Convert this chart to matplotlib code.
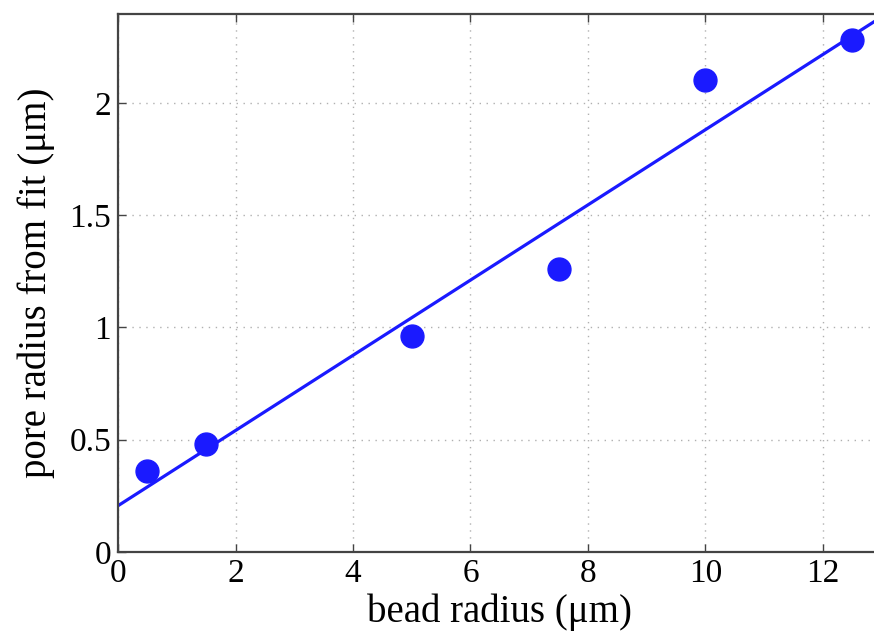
import matplotlib
matplotlib.use("Agg")
import matplotlib.pyplot as plt
import numpy as np

bead_radius = [0.5, 1.5, 5.0, 7.5, 10.0, 12.5]
pore_radius = [0.36, 0.48, 0.96, 1.26, 2.10, 2.28]
fit_slope = 0.1675
fit_intercept = 0.206
x_ticks = [0, 2, 4, 6, 8, 10, 12]
y_ticks = [0, 0.5, 1, 1.5, 2]
y_tick_labels = ["0", "0.5", "1", "1.5", "2"]

plt.rcParams['font.family'] = ['Liberation Serif', 'DejaVu Serif']

fig = plt.figure(figsize=(8.74, 6.35), dpi=100)
ax = fig.add_axes([118/874, 83/635, (881.75-118)/874, (552-14)/635])

color = '#1a1aff'
xf = np.array([0, 13])
ax.plot(xf, fit_intercept + fit_slope * xf, color=color, lw=2.3, zorder=2)
ax.plot(bead_radius, pore_radius, 'o', color=color, markersize=16.5, zorder=3)

ax.set_xlim(0, 13)
ax.set_ylim(0, 2.396)
ax.set_xticks(x_ticks)
ax.set_yticks(y_ticks)
ax.set_yticklabels(y_tick_labels)
ax.tick_params(direction='in', top=True, right=True, length=6, width=1,
               colors='#444444', labelcolor='black', labelsize=24, pad=5)
ax.grid(True, linestyle=(0, (1, 4)), color='#b0b0b0', lw=1)
for s in ax.spines.values():
    s.set_color('#444444')
    s.set_linewidth(1.6)

ax.set_xlabel('bead radius (μm)', fontsize=28, labelpad=3)
ax.set_ylabel('pore radius from fit (μm)', fontsize=28, labelpad=10)

fig.savefig('out.png', dpi=100)
